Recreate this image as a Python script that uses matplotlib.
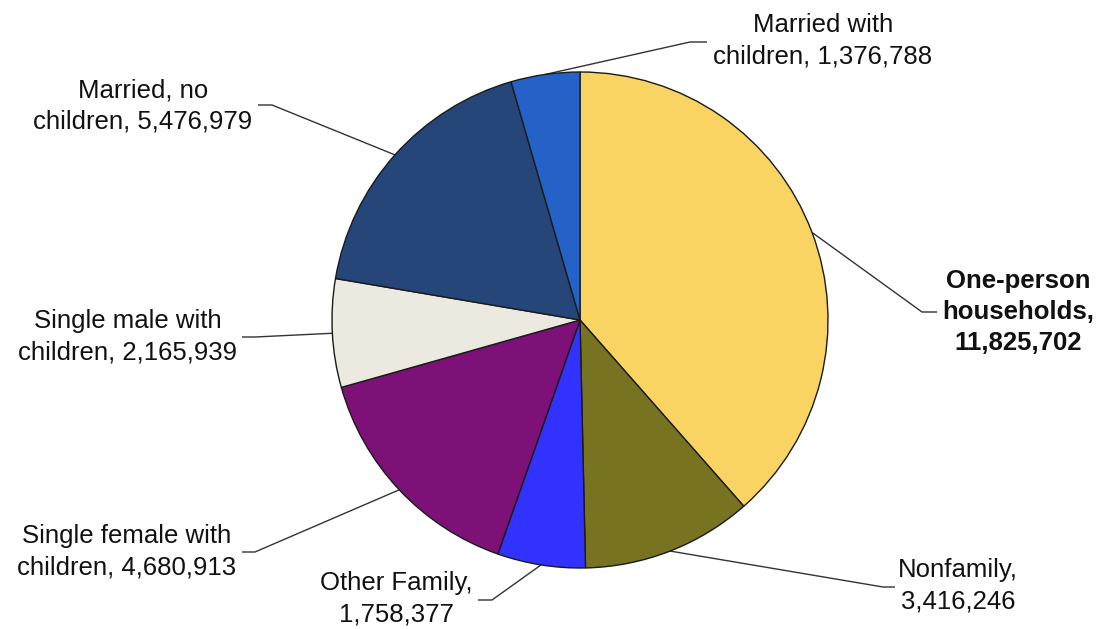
import numpy as np
import matplotlib
matplotlib.use("Agg")
import matplotlib.pyplot as plt

plt.rcParams["font.family"] = ["Liberation Sans", "DejaVu Sans"]

# household types, clockwise from 12 o'clock
categories = [
    "One-person\nhouseholds,",
    "Nonfamily,",
    "Other Family,",
    "Single female with\nchildren,",
    "Single male with\nchildren,",
    "Married, no\nchildren,",
    "Married with\nchildren,",
]
households = [11825702, 3416246, 1758377, 4680913, 2165939, 5476979, 1376788]
colors = ["#F9D462", "#787320", "#3232FF", "#7D1177", "#ECEAE0", "#26467A", "#2462C8"]

W, H = 1102, 629
CX, CY, R = 580, 320, 248

# label placement in pixel space (y from top): text centre, elbow, end of horizontal tick
label_pos = [(1018, 312), (958, 586), (396, 599), (127, 552), (128, 337), (143, 106), (823, 41)]
elbows = [(922, 312), (883, 587), (492, 600), (255, 552), (255, 337), (272, 105), (690, 42)]
tick_ends = [(937, 312), (895, 587), (478, 600), (242, 552), (242, 337), (258, 105), (707, 42)]


def fy(y):
    return H - y


fig = plt.figure(figsize=(W / 100, H / 100), dpi=100)
ax = fig.add_axes([0, 0, 1, 1])

wedges, _ = ax.pie(
    households,
    colors=colors,
    startangle=90,
    counterclock=False,
    center=(CX, fy(CY)),
    radius=R,
    frame=True,
    wedgeprops=dict(edgecolor="#1a1a1a", linewidth=1.0),
)
ax.set_xlim(0, W)
ax.set_ylim(0, H)
ax.set_aspect("equal")
ax.axis("off")

for i, w in enumerate(wedges):
    mid = np.deg2rad((w.theta1 + w.theta2) / 2)
    ax_x = CX + R * np.cos(mid)
    ax_y = fy(CY) + R * np.sin(mid)
    ex, ey = elbows[i]
    tx, ty = tick_ends[i]
    ax.plot([ax_x, ex, tx], [ax_y, fy(ey), fy(ty)], color="#333333", lw=1.0,
            zorder=0, solid_capstyle="butt")

    label = f"{categories[i]} {households[i]:,}"
    weight = "normal"
    if i == 0:
        label = f"{categories[i]}\n{households[i]:,}"
        weight = "bold"
    elif i in (1, 2):
        label = f"{categories[i]}\n{households[i]:,}"
    lx, ly = label_pos[i]
    ax.text(lx, fy(ly), label, ha="center", va="center", multialignment="center",
            fontsize=18.5, fontweight=weight, color="#111111", linespacing=1.38)

fig.savefig("out.png", dpi=100, facecolor="white")
